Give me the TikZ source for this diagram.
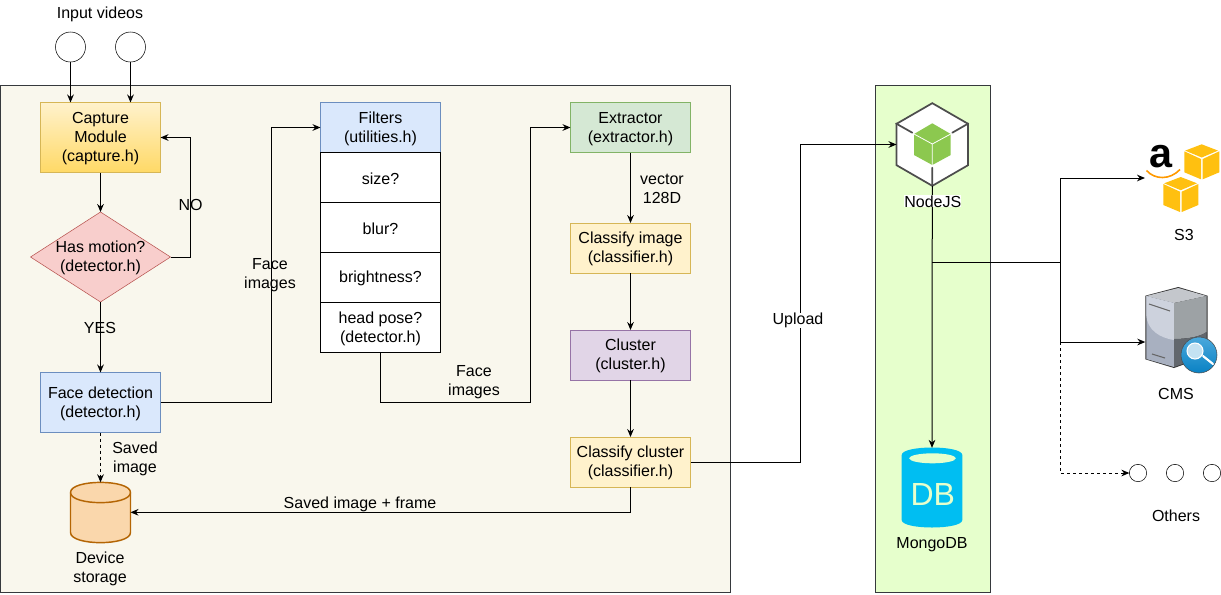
\documentclass[tikz,border=0pt]{standalone}
\usepackage{fontspec}
\usepackage{tikz}
\usepackage{xcolor}
\usetikzlibrary{arrows.meta,shapes.geometric}
\setmainfont{Liberation Sans}

\definecolor{paneledge}{HTML}{36393D}
\definecolor{panelcream}{HTML}{F9F7ED}
\definecolor{panelgreen}{HTML}{E6FFCC}
\definecolor{yellowfill}{HTML}{FFF2CC}
\definecolor{yellowdark}{HTML}{FFD966}
\definecolor{yellowedge}{HTML}{D6B656}
\definecolor{redfill}{HTML}{F8CECC}
\definecolor{rededge}{HTML}{B85450}
\definecolor{bluefill}{HTML}{DAE8FC}
\definecolor{blueedge}{HTML}{6C8EBF}
\definecolor{greenfill}{HTML}{D5E8D4}
\definecolor{greenedge}{HTML}{82B366}
\definecolor{purplefill}{HTML}{E1D5E7}
\definecolor{purpleedge}{HTML}{9673A6}
\definecolor{orangefill}{HTML}{FAD7AC}
\definecolor{orangeedge}{HTML}{B46504}
\definecolor{nodegrey}{HTML}{4D4D4D}
\definecolor{nodegreen}{HTML}{8CC84F}
\definecolor{mongoblue}{HTML}{00BEF2}
\definecolor{awsyellow}{HTML}{FFC010}
\definecolor{awsorange}{HTML}{FF9900}
\definecolor{srvlight}{HTML}{CDD2DD}
\definecolor{srvmid}{HTML}{A8B0C0}
\definecolor{srvright}{HTML}{9DA2A5}
\definecolor{srvdark}{HTML}{62676D}
\definecolor{srvtop}{HTML}{C4C7CC}
\definecolor{lensblue}{HTML}{0A82C4}
\definecolor{lenstop}{HTML}{4AA8DC}
\definecolor{lensin}{HTML}{C4E2F2}

\tikzset{
  label txt/.style={font=\fontsize{12}{14.25}\selectfont, align=center, inner sep=0pt, yshift=-1pt},
  block/.style={draw, inner sep=0pt, outer sep=0pt, minimum width=90pt, minimum height=37.5pt,
    label={[label txt]center:{#1}}},
  yellowblock/.style={block={#1}, draw=yellowedge, fill=yellowfill},
  cell/.style={block={#1}, draw=black, fill=white},
  panel/.style={draw=paneledge, minimum height=380.25pt, inner sep=0pt, outer sep=0pt},
  input/.style={circle, draw=black, fill=white, minimum size=22.5pt, inner sep=0pt, outer sep=0pt},
  other/.style={circle, draw=black, fill=white, minimum size=13pt, inner sep=0pt, outer sep=0pt},
  flow/.style={-{Stealth[length=6pt,width=5pt]}, black, line width=0.75pt},
  dashflow/.style={flow, dash pattern=on 2.25pt off 2.25pt},
}

\begin{document}
\begin{tikzpicture}[x=0.75pt,y=-0.75pt]
\useasboundingbox (0,0) rectangle (1221,594);

% panels
\node[panel, fill=panelcream, minimum width=547.5pt] (device) at (365,338.5) {};
\node[panel, fill=panelgreen, minimum width=86.25pt] (server) at (932.5,338.5) {};

% inputs
\node[label txt] (inputtxt) at (100,13) {Input videos};
\node[input] (videoa) at (70.5,47) {};
\node[input] (videob) at (130.5,47) {};

% left column
\node[block={Capture\\Module\\(capture.h)}, draw=yellowedge, top color=yellowfill, bottom color=yellowdark, minimum height=52.5pt] (capture) at (100.5,137.5) {};
\node[diamond, draw=rededge, fill=redfill, aspect=1.556, minimum width=105pt, minimum height=67.5pt, inner sep=0pt, outer sep=0pt] (motion) at (100.5,257) {};
\node[label txt] (motiontxt) at (motion) {Has motion?\\(detector.h)};
\node[block={Face detection\\(detector.h)}, draw=blueedge, fill=bluefill, minimum height=45pt] (facedet) at (100.5,402.5) {};
\node[minimum width=45pt, minimum height=45pt, inner sep=0pt, outer sep=0pt] (storage) at (100.5,512.3) {};
\draw[orangeedge, line width=1.1pt, fill=orangefill] (70.5,492.5) .. controls (70.5,479) and (130.5,479) .. (130.5,492.5) -- (130.5,532.5) .. controls (130.5,546) and (70.5,546) .. (70.5,532.5) -- cycle;
\draw[orangeedge, line width=1.1pt] (70.5,492.5) .. controls (70.5,506) and (130.5,506) .. (130.5,492.5);
\node[label txt] (storagetxt) at (100,568) {Device\\storage};

% filters
\node[block={Filters\\(utilities.h)}, draw=blueedge, fill=bluefill] (filters) at (380.5,127.5) {};
\node[cell={size?}] (size) at (380.5,177.5) {};
\node[cell={blur?}] (blur) at (380.5,227.5) {};
\node[cell={brightness?}] (bright) at (380.5,277.5) {};
\node[cell={head pose?\\(detector.h)}] (pose) at (380.5,327.5) {};

% right column
\node[block={Extractor\\(extractor.h)}, draw=greenedge, fill=greenfill] (extractor) at (630.5,127.5) {};
\node[yellowblock={Classify image\\(classifier.h)}] (classimg) at (630.5,248) {};
\node[block={Cluster\\(cluster.h)}, draw=purpleedge, fill=purplefill] (cluster) at (630.5,355) {};
\node[yellowblock={Classify cluster\\(classifier.h)}] (classclu) at (630.5,462) {};

% NodeJS icon
\node[regular polygon, regular polygon sides=6, shape border rotate=30, draw=nodegrey, line width=1.3pt, fill=white, minimum size=62pt, inner sep=0pt, outer sep=0pt] (nodejs) at (932.3,144.5) {};
\draw[nodegrey, line width=1.3pt, line cap=round] (896,123.5) -- (912.3,132.7) (968.3,123.5) -- (952.3,132.7) (932.3,185.5) -- (932.3,167.7);
\fill[nodegreen] (932.3,123.3) -- (950.7,134) -- (950.7,155) -- (932.3,165) -- (914,155) -- (914,134) -- cycle;
\draw[white, line width=0.6pt] (914,134) -- (932.3,144) -- (950.7,134) (932.3,144) -- (932.3,165);

% MongoDB icon
\node[minimum width=45.5pt, minimum height=59.5pt, inner sep=0pt, outer sep=0pt] (mongo) at (932,487.5) {};
\fill[mongoblue] (901.7,455) .. controls (901.7,445) and (962.3,445) .. (962.3,455) -- (962.3,520) .. controls (962.3,530) and (901.7,530) .. (901.7,520) -- cycle;
\node[ellipse, fill=panelgreen, minimum width=35pt, minimum height=7.5pt, inner sep=0pt] (mongotop) at (932.5,458.3) {};
\node[text=panelgreen, font=\fontsize{24}{24}\selectfont, inner sep=0pt] (mongotxt) at (932.8,494) {DB};
\node[label txt] (mongolbl) at (932,543) {MongoDB};

% S3 icon
\foreach \cx/\cy in {1201.7/144.3,1180.7/177}{
  \fill[awsyellow] (\cx-17.4,\cy+7) -- (\cx-0.7,\cy+14.7) -- (\cx-0.7,\cy+35) -- (\cx-17.4,\cy+28) -- cycle;
  \fill[awsyellow] (\cx+17.6,\cy+7) -- (\cx+1,\cy+14.7) -- (\cx+1,\cy+35) -- (\cx+17.6,\cy+28) -- cycle;
  \fill[awsyellow] (\cx,\cy) -- (\cx+16.3,\cy+6.3) -- (\cx,\cy+13.2) -- (\cx-16.5,\cy+6.3) -- cycle;
}
\node[font=\bfseries\fontsize{31}{31}\selectfont, inner sep=0pt] (amazon) at (1161,157) {a};
\draw[awsorange, line width=1.2pt] (1146.5,170.5) .. controls (1155,180) and (1170,180) .. (1180,169.5);
\node[label txt] (s3txt) at (1184,234) {S3};

% CMS icon
\fill[black!80] (1178.3,287) -- (1207.5,295.7) -- (1207.5,356) -- (1174,368) -- (1145.3,359.3) -- (1145.3,295.7) -- cycle;
\fill[srvtop] (1178.3,288) -- (1206.5,296) -- (1174,303) -- (1146.3,296) -- cycle;
\fill[srvmid] (1146.3,296) -- (1174,303) -- (1174,367) -- (1146.3,359) -- cycle;
\fill[srvlight] (1146.3,296) -- (1174,303) -- (1174,340) .. controls (1160,338) and (1147,330) .. (1146.3,315) -- cycle;
\fill[srvright] (1174,303) -- (1206.5,296) -- (1206.5,332) .. controls (1200,337) and (1186,339) .. (1174,339) -- cycle;
\fill[srvdark] (1174,339) .. controls (1186,339) and (1200,337) .. (1206.5,332) -- (1206.5,356) -- (1174,367) -- cycle;
\draw[black!60, line width=0.8pt] (1149,304) -- (1170,311) (1152,354) -- (1165,358);
\node[circle, top color=lenstop, bottom color=lensblue, draw=black!70, minimum size=27pt, inner sep=0pt] (lens) at (1199,355) {};
\draw[white, line width=1.6pt, line cap=round] (1203,356) -- (1213,364);
\node[circle, draw=white, fill=lensin, line width=0.8pt, minimum size=12pt, inner sep=0pt] (lensglass) at (1195,351) {};
\node[label txt] (cmstxt) at (1176,393) {CMS};

% others
\node[other] (othera) at (1138,473) {};
\node[other] (otherb) at (1175,473) {};
\node[other] (otherc) at (1212,473) {};
\node[label txt] (otherstxt) at (1176,514) {Others};

% connectors
\draw[flow] (videoa) -- (videoa |- capture.north);
\draw[flow] (videob) -- (videob |- capture.north);
\draw[flow] (capture) -- (motion);
\draw[flow] (motion.east) -- ++(19.5,0) |- (capture.east);
\draw[flow] (motion) -- (facedet);
\draw[dashflow] (facedet) -- (storage.north);
\draw[flow] (facedet.east) -- ++(110.5,0) |- (filters.west);
\draw[flow] (pose.south) -- ++(0,50) -- ++(149.5,0) |- (extractor.west);
\draw[flow] (extractor) -- (classimg);
\draw[flow] (classimg) -- (cluster);
\draw[flow] (cluster) -- (classclu);
\draw[flow] (classclu.south) |- (storage.east);
\draw[flow] (classclu.east) -- ++(110,0) |- (nodejs.west);
\draw[flow] (nodejs.south) -- (mongo.north);

\coordinate (nodeout) at (932.3,262);
\coordinate (fork) at (1060,262);
\coordinate (cmsfork) at (1060,342);
\coordinate (s3in) at (1145,178);
\coordinate (cmsin) at (1145.3,342);
\draw[black, line width=0.75pt] (nodeout) -- (fork);
\draw[flow] (fork) |- (s3in);
\draw[flow] (fork) |- (cmsin);
\draw[dashflow] (cmsfork) |- (othera.west);

% labels on top
\node[label txt] (notxt) at (190.5,204) {NO};
\node[label txt] (yestxt) at (100,327) {YES};
\node[label txt] (savedtxt) at (135,458) {Saved\\image};
\node[label txt] (faceatxt) at (270,274) {Face\\images};
\node[label txt] (facebtxt) at (474,381) {Face\\images};
\node[label txt] (frametxt) at (360,503) {Saved image + frame};
\node[label txt] (vectortxt) at (662,188) {vector\\128D};
\node[label txt, fill=white] (uploadtxt) at (798,319) {Upload};
\node[label txt, fill=white] (nodetxt) at (932.8,200) {NodeJS};

\end{tikzpicture}
\end{document}
